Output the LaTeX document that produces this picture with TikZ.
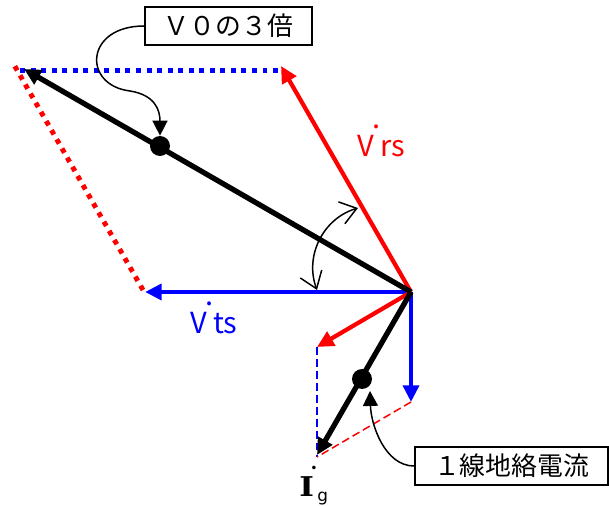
\documentclass[tikz,border=0pt]{standalone}
\usepackage{fontspec}
\usepackage{graphicx}
\setmainfont{Noto Sans CJK JP}
\newfontfamily\igserif{DejaVu Serif}
\newfontfamily\igsans{DejaVu Sans}
\usetikzlibrary{arrows.meta}
\definecolor{vecRed}{HTML}{FF0000}
\definecolor{vecBlue}{HTML}{0000FF}
\newcommand{\phasorV}{V\kern-0.06em\raisebox{1.0em}{.}}

\begin{document}
\begin{tikzpicture}[
  x=0.02cm, y=-0.02cm,
  >={Triangle[length=9.5pt,width=9pt]},
  phasor/.style={line width=2.4pt,->},
  dotguide/.style={line width=2.8pt,dash pattern=on 2.8pt off 3.2pt},
  thinguide/.style={line width=0.85pt,dash pattern=on 4.5pt off 2.3pt},
  callout/.style={
    draw,
    line width=1.1pt,
    minimum width=3.34cm,
    minimum height=0.76cm,
    inner sep=0pt,
    font=\fontsize{14.7}{16}\selectfont
  },
  pointer/.style={line width=0.85pt,-{Triangle[length=8.5pt,width=8.5pt]}},
  bigdot/.style={circle,fill,inner sep=0pt,minimum size=0.4cm},
  phlabel/.style={inner sep=0pt,anchor=base west,font=\fontsize{16.5}{18}\selectfont}
]
  \useasboundingbox (0,0) rectangle (609,506);

  \coordinate (O) at (411,292);
  \coordinate (rsTip) at (281,66);
  \coordinate (tsTip) at (145,292);
  \coordinate (sumTip) at (24,69);
  \coordinate (rgTip) at (317,347);
  \coordinate (dnTip) at (411,402);
  \coordinate (igTip) at (317,455);
  \coordinate (cBot) at (317,457);
  \coordinate (bTopR) at (278,70.5);
  \coordinate (bTopL) at (18,70.5);
  \coordinate (rTopB) at (143,290);
  \coordinate (rTopT) at (13,63);

  \draw[dotguide,draw=vecBlue] (bTopR)--(bTopL);
  \draw[dotguide,draw=vecRed] (rTopB)--(rTopT);
  \draw[thinguide,draw=vecBlue] (rgTip)--(cBot);
  \draw[thinguide,draw=vecRed] (dnTip)--(cBot);

  \draw[phasor,draw=vecBlue,fill=vecBlue] (O)--(tsTip);
  \draw[phasor,draw=vecBlue,fill=vecBlue] (O)--(dnTip);
  \draw[phasor,draw=vecRed,fill=vecRed] (O)--(rsTip);
  \draw[phasor,draw=vecRed,fill=vecRed] (O)--(rgTip);
  \draw[phasor,line width=3pt] (O)--(sumTip);
  \draw[phasor,line width=3pt] (O)--(igTip);

  \node[bigdot] (dotA) at (160,146) {};
  \node[bigdot] (dotB) at (362,379) {};

  \node[phlabel,text=vecRed] (vrs) at (357,157) {\phasorV rs};
  \node[phlabel,text=vecBlue] (vts) at (190,334) {\phasorV ts};
  \node[inner sep=0pt,anchor=base west] (ig) at (299,497)
    {{\igserif\bfseries\fontsize{15.5}{17}\selectfont\scalebox{1.15}[1]{I}\kern-0.12em\raisebox{1.0em}{\fontsize{11}{12}\selectfont.}}%
     \raisebox{-2.3pt}{\igsans\fontsize{9.6}{10}\selectfont g}};

  \coordinate (angS) at (317,290);
  \coordinate (angE) at (358,208);
  \draw[line width=0.85pt,{Straight Barb[length=9pt,width=13pt]}-{Straight Barb[length=9pt,width=13pt]}]
    (angS) .. controls (304.3,255.9) and (323.1,218.3) .. (angE);

  \node[callout] (triple) at (228.5,26) {Ｖ０の３倍};
  \node[callout,minimum width=3.86cm] (fault) at (511.5,466) {１線地絡電流};

  \draw[pointer] (triple.west) .. controls (85,26) and (82,85) .. (130,91)
    .. controls (155,95) and (160,110) .. (dotA.north);
  \coordinate (ptrB) at (370,391);
  \draw[pointer] (fault.west) .. controls (385,466) and (371,425) .. (ptrB);
\end{tikzpicture}
\end{document}
